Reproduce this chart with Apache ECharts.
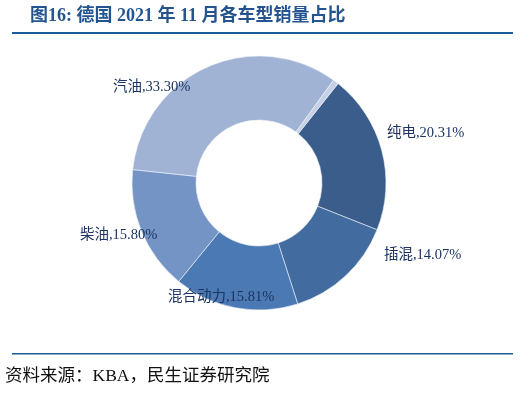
<!DOCTYPE html>
<html>
<head>
<meta charset="utf-8">
<script src="https://cdn.jsdelivr.net/npm/echarts@6/dist/echarts.min.js"></script>
<style>
  html, body { margin: 0; padding: 0; background: #fff; }
  #chart { width: 532px; height: 396px; }
</style>
</head>
<body>
<div id="chart"></div>
<script>
var categories = [ '纯电', '插混', '混合动力', '柴油', '汽油', '其他' ];
var shares = [ 20.31, 14.07, 15.81, 15.80, 33.30, 0.71 ];
var sliceColors = [ '#3a5d8b', '#426c9f', '#4a79b3', '#7494c6', '#a0b3d4', '#c6d1e5' ];
// label anchor spots (left edge, middle)
var labelSpots = [ [ 387, 133 ], [ 384, 255 ], [ 168, 297 ], [ 80, 235 ], [ 113, 87 ], null ];

var serif = '"Liberation Serif", "Times New Roman", "Noto Sans CJK SC", serif';

var chart = echarts.init( document.getElementById( 'chart' ), null, { renderer: 'canvas' } );

var data = categories.map( function( name, i ) {
	return {
		name: name,
		value: shares[ i ],
		itemStyle: { color: sliceColors[ i ] },
		label: { show: i < 5 }
	};
} );

var option = {
	animation: false,
	graphic: [
		{
			type: 'text',
			left: 30,
			top: 7,
			style: {
				text: '图16: 德国 2021 年 11 月各车型销量占比',
				fill: '#24548f',
				font: 'bold 18px ' + serif
			}
		},
		{
			type: 'rect',
			shape: { x: 12, y: 32, width: 501, height: 2 },
			style: { fill: '#1b5a9b' }
		},
		{
			type: 'rect',
			shape: { x: 12, y: 353, width: 501, height: 1.5 },
			style: { fill: '#1b5a9b' }
		},
		{
			type: 'text',
			left: 5,
			top: 368,
			style: {
				text: '资料来源：KBA，民生证券研究院',
				fill: '#111',
				font: '17.5px ' + serif
			}
		}
	],
	series: [
		{
			type: 'pie',
			center: [ 259, 183 ],
			radius: [ 63, 127 ],
			startAngle: 51.5,
			clockwise: true,
			data: data,
			itemStyle: {
				borderColor: '#eef2f8',
				borderWidth: 0.6
			},
			label: {
				position: 'outside',
				color: '#1c3462',
				fontSize: 14.5,
				fontFamily: serif,
				formatter: function( p ) {
					return p.name + ',' + p.value.toFixed( 2 ) + '%';
				}
			},
			labelLine: { show: false },
			labelLayout: function( params ) {
				var spot = labelSpots[ params.dataIndex ];
				if ( !spot ) return {};
				return {
					x: spot[ 0 ],
					y: spot[ 1 ],
					align: 'left',
					verticalAlign: 'middle'
				};
			}
		}
	]
};

chart.setOption( option );
</script>
</body>
</html>
